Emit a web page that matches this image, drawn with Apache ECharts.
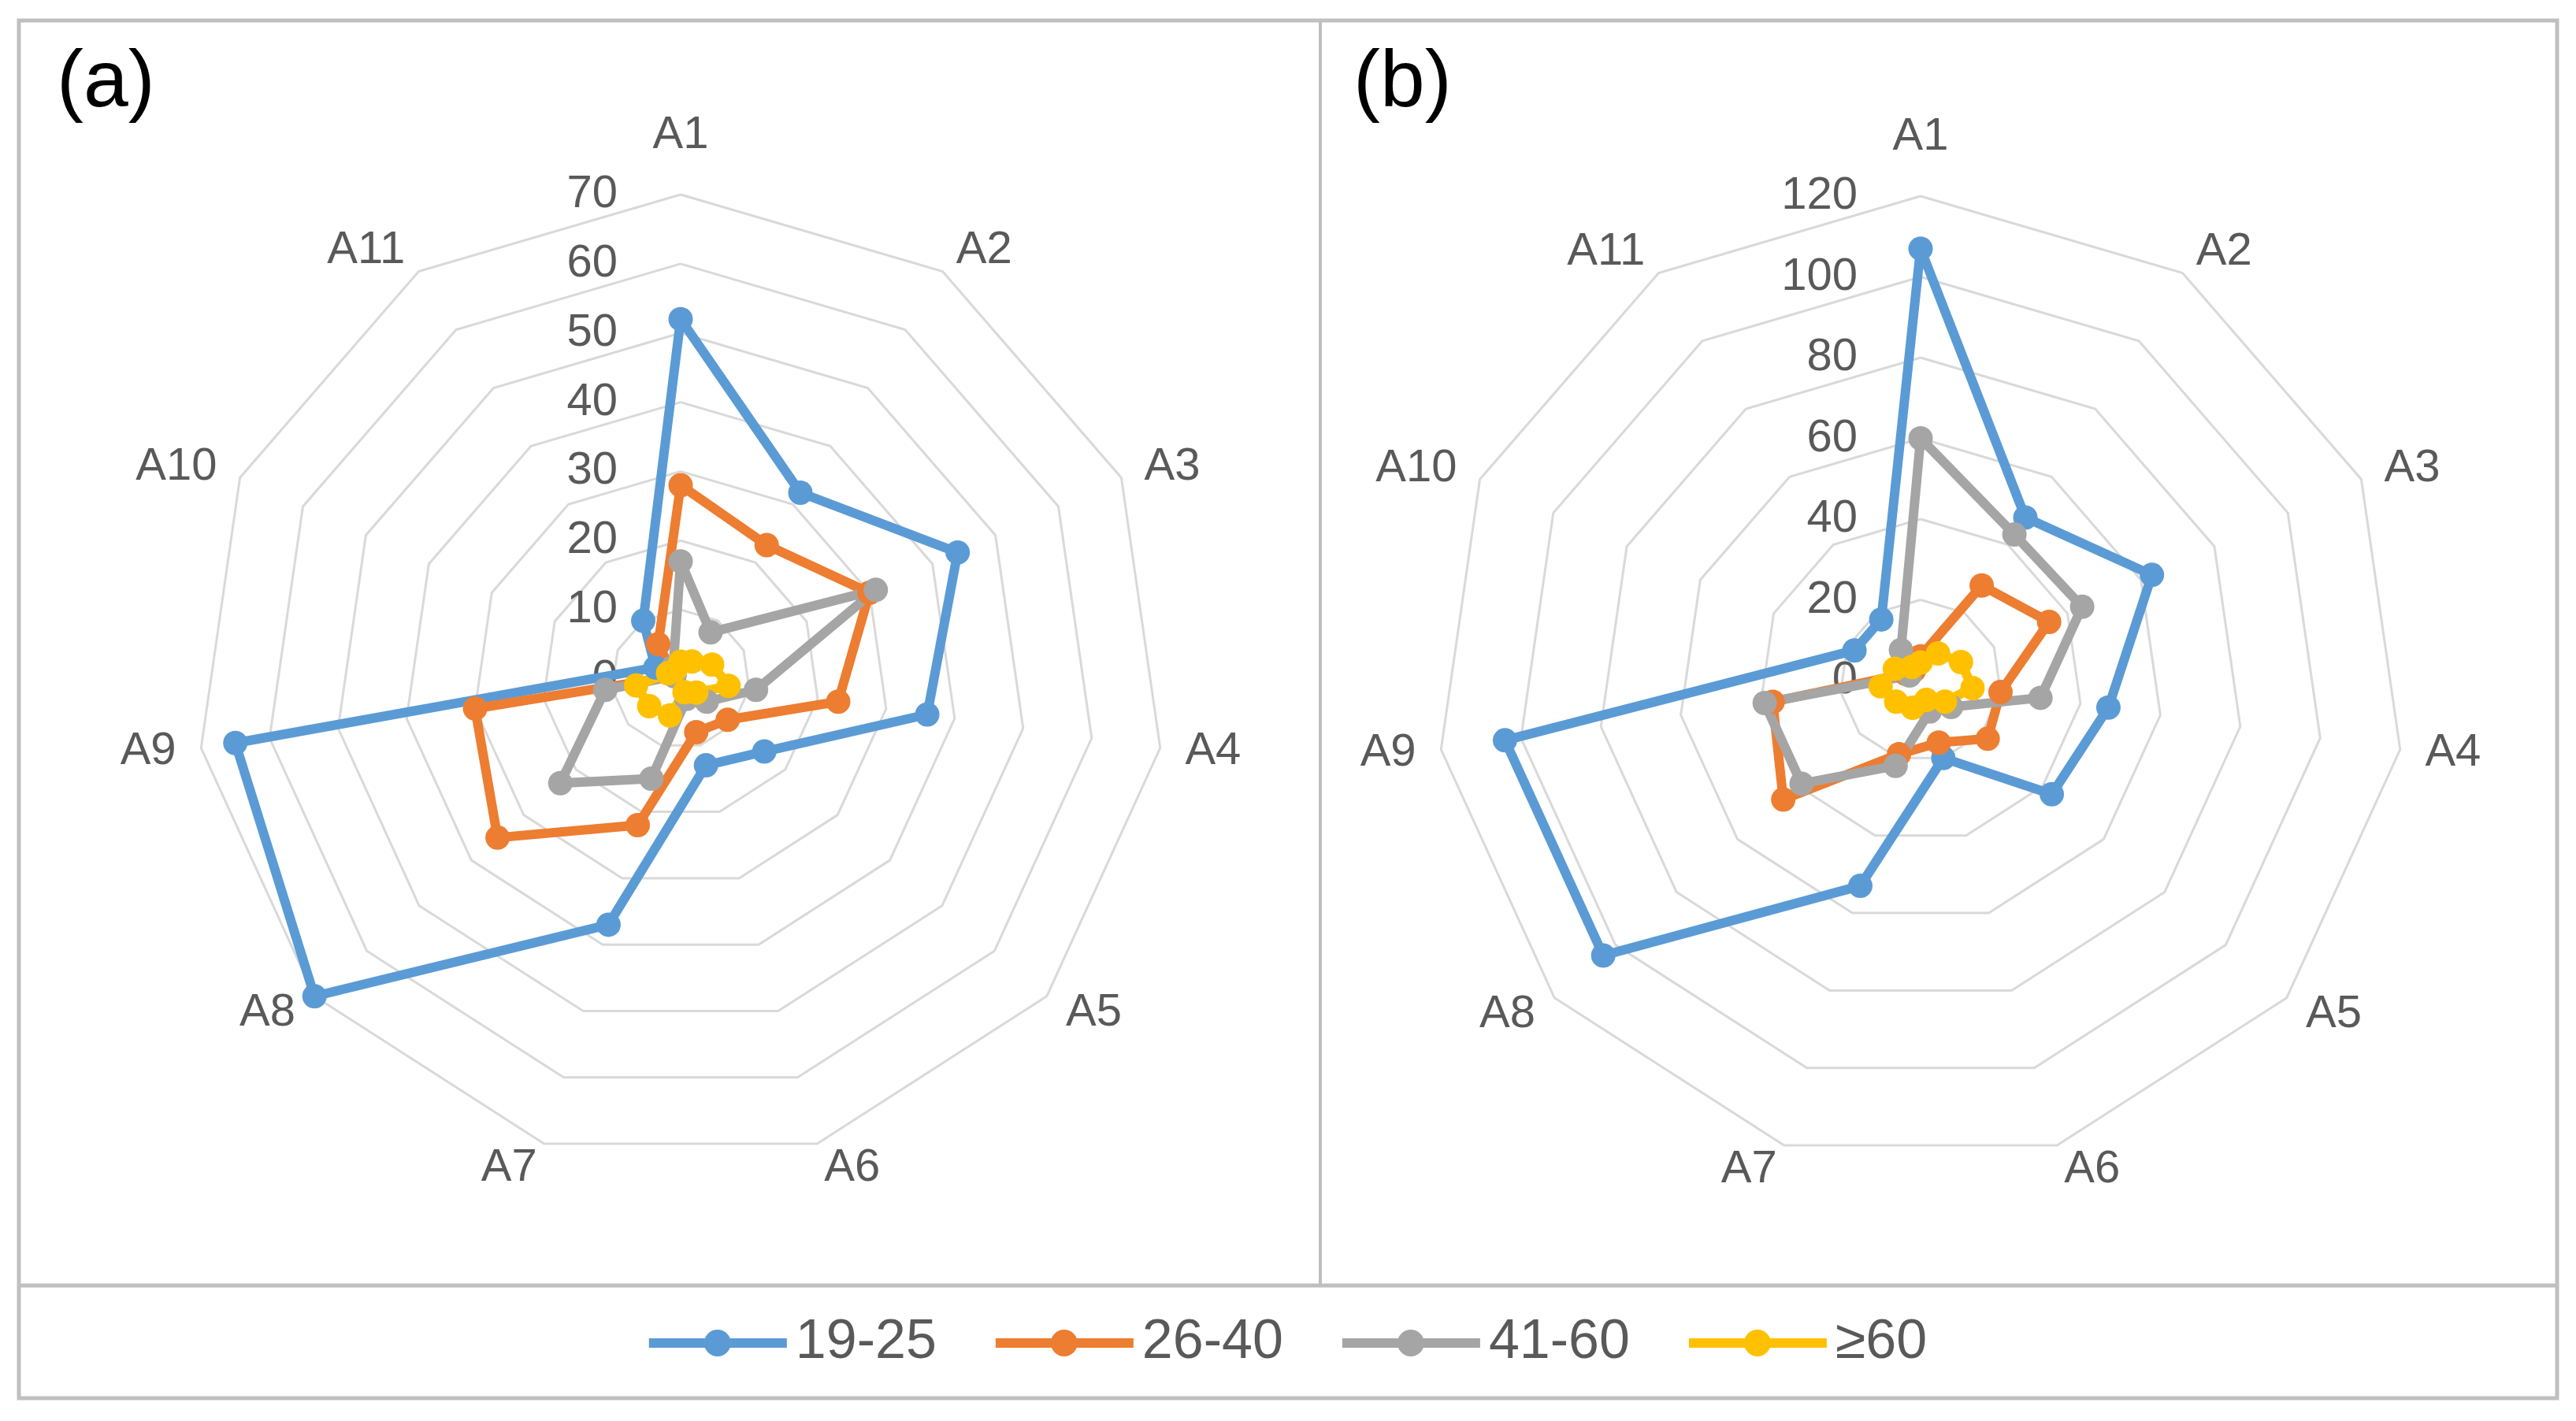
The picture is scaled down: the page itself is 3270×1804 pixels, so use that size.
<!DOCTYPE html>
<html>
<head>
<meta charset="utf-8">
<script src="https://cdn.jsdelivr.net/npm/echarts@6/dist/echarts.min.js"></script>
<style>
html,body{margin:0;padding:0;background:#fff;}
#c{width:3270px;height:1804px;}
</style>
</head>
<body>
<div id="c"></div>
<script>
// ---- data ----
const categories = ['A1','A2','A3','A4','A5','A6','A7','A8','A9','A10','A11'];
const groups = ['19-25','26-40','41-60','≥60'];
const colors = ['#5B9BD5','#ED7D31','#A5A5A5','#FFC000'];
// panel (a)
const a_19_25 = [52, 32, 44, 36, 16, 13, 37, 70, 65, 4, 10];
const a_26_40 = [28, 23, 30, 23, 9, 8, 22, 35, 30, 1, 6];
const a_41_60 = [17, 8, 31, 11, 5, 3, 15, 23, 11, 1, 2];
const a_ge60  = [2.5, 3, 5, 7, 3, 2, 5.5, 6, 6.5, 2, 1.5];
// panel (b)
const b_19_25 = [107, 48, 63, 47, 43, 20, 53, 104, 104, 18, 18];
const b_26_40 = [6, 28, 35, 20, 22, 16, 19, 45, 37, 4, 3];
const b_41_60 = [60, 43, 44, 30, 10, 8, 22, 39, 39, 3, 9];
const b_ge60  = [4.5, 8, 11, 13, 8, 5, 7, 8, 10, 7, 4];
const aMax = 70, aSplit = 7;
const bMax = 120, bSplit = 6;

// ECharts lays radar indicators out counter-clockwise; reorder so A1..A11 run clockwise.
const order = [0].concat(categories.map((c, i) => i).slice(1).reverse());
const reord = arr => order.map(i => arr[i]);

const FONT = 'Liberation Sans';
function radarCfg(center, max, split) {
  return {
    center: center, radius: 615, startAngle: 90, shape: 'polygon',
    splitNumber: split,
    indicator: reord(categories).map((n, i) => {
      const o = {name: n, min: 0, max: max};
      if (i === 0) { o.axisLabel = {show: true}; o.nameGap = 46; }
      return o;
    }),
    nameGap: 32,
    axisName: {color: '#595959', fontSize: 58, fontFamily: FONT},
    splitLine: {lineStyle: {color: '#d9d9d9', width: 3}},
    splitArea: {show: false},
    axisLine: {show: false},
    axisTick: {show: false},
    axisLabel: {show: false, margin: 80, fontSize: 58, color: '#595959', fontFamily: FONT}
  };
}
function mk(radarIndex, name, vals, color) {
  return {
    type: 'radar', radarIndex: radarIndex, z: 2,
    symbol: 'circle', symbolSize: 31,
    lineStyle: {width: 12, color: color},
    itemStyle: {color: color},
    data: [{name: name, value: reord(vals), lineStyle: {width: 12, color: color}, itemStyle: {color: color}}]
  };
}
const aSets = [a_19_25, a_26_40, a_41_60, a_ge60];
const bSets = [b_19_25, b_26_40, b_41_60, b_ge60];
const series = [];
aSets.forEach((v, i) => series.push(mk(0, groups[i], v, colors[i])));
bSets.forEach((v, i) => series.push(mk(1, groups[i], v, colors[i])));

const legendIcon = 'path://M0,11 L175,11 L175,23 L0,23 Z M70,17 A17,17 0 1,1 104,17 A17,17 0 1,1 70,17 Z';

const chart = echarts.init(document.getElementById('c'), null, {renderer: 'canvas'});
chart.setOption({
  animation: false,
  backgroundColor: '#fff',
  color: colors,
  title: [
    {text: '(a)', left: 72, top: 56, padding: 0, textStyle: {fontSize: 102, fontWeight: 'normal', color: '#000', fontFamily: FONT}},
    {text: '(b)', left: 1718, top: 56, padding: 0, textStyle: {fontSize: 102, fontWeight: 'normal', color: '#000', fontFamily: FONT}}
  ],
  legend: {
    data: groups.map(g => ({name: g, icon: legendIcon})), left: 'center', top: 1670, padding: 0,
    itemWidth: 175, itemHeight: 34, itemGap: 75,
    textStyle: {fontSize: 70, color: '#595959', fontFamily: FONT, padding: [0, 0, 0, 6]}
  },
  radar: [radarCfg([864, 862], aMax, aSplit), radarCfg([2438, 864], bMax, bSplit)],
  graphic: [
    {type: 'rect', shape: {x: 24, y: 26, width: 3222, height: 1749}, style: {fill: 'none', stroke: '#bfbfbf', lineWidth: 5}, z: -1},
    {type: 'line', shape: {x1: 1676, y1: 26, x2: 1676, y2: 1632}, style: {stroke: '#bfbfbf', lineWidth: 4}, z: -1},
    {type: 'line', shape: {x1: 24, y1: 1632, x2: 3246, y2: 1632}, style: {stroke: '#bfbfbf', lineWidth: 5}, z: -1}
  ],
  series: series
});
</script>
</body>
</html>
